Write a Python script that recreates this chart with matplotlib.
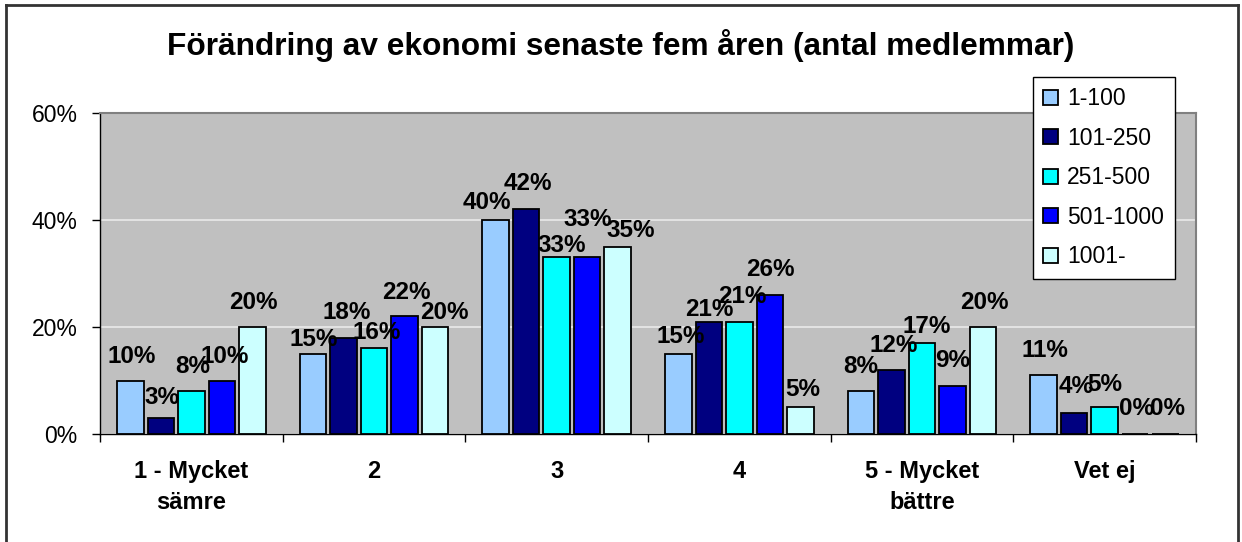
import numpy as np
import matplotlib.pyplot as plt
from matplotlib.lines import Line2D

plt.rcParams['font.family'] = ['Liberation Sans', 'DejaVu Sans']

# --- data ---
categories = ["1 - Mycket\nsämre", "2", "3", "4", "5 - Mycket\nbättre", "Vet ej"]
series_names = ["1-100", "101-250", "251-500", "501-1000", "1001-"]
v_1_100 = [10, 15, 40, 15, 8, 11]
v_101_250 = [3, 18, 42, 21, 12, 4]
v_251_500 = [8, 16, 33, 21, 17, 5]
v_501_1000 = [10, 22, 33, 26, 9, 0]
v_1001 = [20, 20, 35, 5, 20, 0]
series_values = [v_1_100, v_101_250, v_251_500, v_501_1000, v_1001]
colors = ["#99CCFF", "#000080", "#00FFFF", "#0000FF", "#CCFFFF"]
title = "Förändring av ekonomi senaste fem åren (antal medlemmar)"

# label placement (px from bar top centre to label middle), as in the original
label_dx = [[1.5, 1, -8.5, 2, 0, 1.5],
            [1.5, 3, 2, 0, 2, 2],
            [1.5, 3, 5, 2.5, 5, 0],
            [2.5, 2, 1, 1, 0, 1],
            [1, 9.5, 13, 2, 1, 1.5]]
label_dy = [[26.5, 16, 20, 19, 27, 27],
            [23, 27, 28, 14, 27, 28],
            [26.5, 18, 14.5, 27, 19, 24.5],
            [26.5, 26, 40, 28, 28, 27.5],
            [26.5, 17, 18, 20, 27, 27.5]]

W, H = 1242, 542
PT = 72 / 100  # px -> pt
fig = plt.figure(figsize=(W / 100, H / 100), dpi=100)
ax = fig.add_axes([100 / W, 1 - 434 / H, (1196 - 100) / W, (434 - 113) / H])
ax.set_facecolor("#C0C0C0")

x = np.arange(len(categories))
step = 0.167
width = 0.145
lab_size = 17.5
half_cap = 0.358 * lab_size / PT  # half digit height in px
for i, (name, vals, c) in enumerate(zip(series_names, series_values, colors)):
    pos = x + (i - 2) * step
    ax.bar(pos, vals, width, color=c, edgecolor="black",
           linewidth=1.3, label=name, zorder=3)
    for j, (xi, v) in enumerate(zip(pos, vals)):
        dx = label_dx[i][j] * PT
        dy = (label_dy[i][j] - half_cap) * PT
        ax.annotate(f"{v}%", (xi, v), xytext=(dx, dy), textcoords="offset points",
                    ha="center", va="baseline", fontsize=lab_size, fontweight="bold", zorder=5)

ax.set_xlim(-0.5, len(categories) - 0.5)
ax.set_ylim(0, 60)
ax.set_yticks([0, 20, 40, 60])
ax.set_yticklabels(["0%", "20%", "40%", "60%"], fontsize=16.5)
ax.yaxis.grid(True, color="#EAEAEA", linewidth=1.2, zorder=0)
ax.set_axisbelow(True)

# ticks between groups, labels at centres
ax.set_xticks(np.arange(-0.5, len(categories) + 0.5, 1))
ax.set_xticklabels([])
ax.set_xticks(x, minor=True)
ax.set_xticklabels(categories, minor=True, fontsize=17, fontweight="bold", linespacing=1.45)
ax.tick_params(axis="x", which="major", length=6, direction="out", width=1)
ax.tick_params(axis="x", which="minor", length=0, pad=19)
ax.tick_params(axis="y", length=6, direction="out", width=1, pad=10)

for s in ["left", "bottom"]:
    ax.spines[s].set_color("black")
    ax.spines[s].set_linewidth(1)
for s in ["top", "right"]:
    ax.spines[s].set_color("#808080")
    ax.spines[s].set_linewidth(1.5)

fig.suptitle(title, fontsize=22.8, fontweight="bold", y=1 - 45 / H, va="center")

leg = fig.legend(loc="upper left", bbox_to_anchor=(1033 / W, 1 - 77 / H),
                 fontsize=16.5, frameon=True, fancybox=False, edgecolor="black",
                 framealpha=1, handlelength=0.65, handleheight=0.65,
                 labelspacing=0.72, handletextpad=0.4, borderpad=0.45, borderaxespad=0)
leg.get_frame().set_linewidth(1)
leg.set_zorder(10)

# outer frame (left, top, right)
fig.add_artist(Line2D([5.5 / W, 5.5 / W], [0, 1 - 4.5 / H], color="#333333", lw=2))
fig.add_artist(Line2D([5.5 / W, 1238 / W], [1 - 4.5 / H, 1 - 4.5 / H], color="#333333", lw=2))
fig.add_artist(Line2D([1238 / W, 1238 / W], [0, 1 - 4.5 / H], color="#333333", lw=2))

fig.savefig("out.png", dpi=100)
